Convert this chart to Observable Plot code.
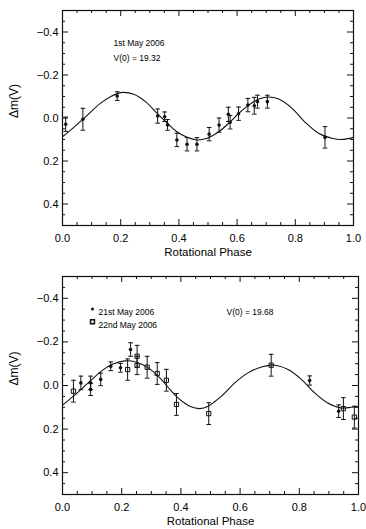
<!DOCTYPE html>
<html><head><meta charset="utf-8">
<script src="https://cdn.jsdelivr.net/npm/d3@7"></script>
<script src="https://cdn.jsdelivr.net/npm/@observablehq/plot@0.6"></script>
<style>
html,body{margin:0;padding:0;background:#fff;}
#chart{width:366px;height:529px;overflow:hidden;}
#chart svg{display:block;}
</style></head><body><div id="chart"></div>
<script>
// ---- tick values ----
const xMajor = [0.0, 0.2, 0.4, 0.6, 0.8, 1.0];
const xMinor = [0.05, 0.1, 0.15, 0.25, 0.3, 0.35, 0.45, 0.5, 0.55, 0.65, 0.7, 0.75, 0.85, 0.9, 0.95];
const yMajor = [-0.4, -0.2, 0.0, 0.2, 0.4];
const yMinor = [-0.45, -0.35, -0.3, -0.25, -0.15, -0.1, -0.05, 0.05, 0.1, 0.15, 0.25, 0.3, 0.35, 0.45];

// ---- panel 1: 1st May 2006 ----
const phase1 = [0.011, 0.070, 0.188, 0.327, 0.351, 0.361, 0.393, 0.428, 0.462, 0.504, 0.538, 0.570, 0.576, 0.605, 0.637, 0.659, 0.670, 0.704, 0.902];
const dm1    = [0.029, 0.006, -0.102, -0.009, -0.006, 0.032, 0.102, 0.122, 0.122, 0.075, 0.033, -0.017, 0.020, -0.020, -0.060, -0.057, -0.076, -0.076, 0.090];
const err1   = [0.033, 0.051, 0.020, 0.033, 0.022, 0.025, 0.031, 0.031, 0.031, 0.031, 0.033, 0.033, 0.031, 0.031, 0.031, 0.039, 0.030, 0.030, 0.050];
const curvePhase1 = [0.0, 0.035, 0.07, 0.13, 0.165, 0.205, 0.245, 0.285, 0.325, 0.361, 0.393, 0.428, 0.462, 0.497, 0.537, 0.577, 0.606, 0.640, 0.675, 0.709, 0.743, 0.789, 0.834, 0.880, 0.926, 0.960, 1.0];
const curveDm1    = [0.087, 0.048, 0.006, -0.068, -0.099, -0.119, -0.110, -0.076, -0.022, 0.025, 0.064, 0.090, 0.102, 0.094, 0.064, 0.017, -0.022, -0.060, -0.088, -0.098, -0.088, -0.045, 0.020, 0.071, 0.094, 0.100, 0.090];

// ---- panel 2: 21st / 22nd May 2006 ----
const phase21 = [0.062, 0.095, 0.095, 0.129, 0.163, 0.196, 0.230, 0.835, 0.933];
const dm21    = [-0.012, -0.012, 0.018, -0.028, -0.088, -0.081, -0.165, -0.023, 0.118];
const err21   = [0.031, 0.031, 0.028, 0.029, 0.020, 0.020, 0.031, 0.021, 0.029];
const phase22 = [0.037, 0.220, 0.252, 0.252, 0.286, 0.320, 0.351, 0.385, 0.494, 0.705, 0.949, 0.986];
const dm22    = [0.026, -0.073, -0.134, -0.092, -0.084, -0.055, -0.024, 0.087, 0.129, -0.093, 0.106, 0.145];
const err22   = [0.050, 0.049, 0.050, 0.042, 0.050, 0.050, 0.050, 0.050, 0.050, 0.050, 0.050, 0.050];
const curvePhase2 = [0.0, 0.037, 0.093, 0.138, 0.171, 0.211, 0.250, 0.290, 0.329, 0.363, 0.396, 0.430, 0.464, 0.492, 0.537, 0.582, 0.627, 0.672, 0.717, 0.762, 0.807, 0.852, 0.896, 0.942, 0.975, 1.0];
const curveDm2    = [0.090, 0.049, -0.020, -0.073, -0.099, -0.113, -0.107, -0.081, -0.035, 0.018, 0.064, 0.095, 0.106, 0.095, 0.049, -0.012, -0.058, -0.085, -0.093, -0.073, -0.028, 0.034, 0.080, 0.103, 0.100, 0.095];

const xLabel = "Rotational Phase";
const yLabel = "Δm(V)";
const note1 = ["1st May 2006", "V(0) = 19.32"];
const legend2 = ["21st May 2006", "22nd May 2006"];
const note2 = "V(0) = 19.68";

const rows = (p, v, e) => p.map((d, i) => ({p: d, v: v[i], e: e ? e[i] : 0}));
const capSymbol = {draw(ctx) { ctx.moveTo(-2.3, 0); ctx.lineTo(2.3, 0); }};
const FONT = "Liberation Sans, Arial, sans-serif";

function errMarks(data) {
  return [
    Plot.ruleX(data, {x: "p", y1: d => d.v - d.e, y2: d => d.v + d.e, stroke: "#111", strokeWidth: 1}),
    Plot.dot(data, {x: "p", y: d => d.v - d.e, symbol: capSymbol, stroke: "#111", strokeWidth: 1, r: 2}),
    Plot.dot(data, {x: "p", y: d => d.v + d.e, symbol: capSymbol, stroke: "#111", strokeWidth: 1, r: 2})
  ];
}

function panel({height, mt, mb, ml, mr, width, marks}) {
  const ih = height - mt - mb, iw = width - ml - mr;
  const maj = 6, mnr = 3;
  return Plot.plot({
    width, height, marginTop: mt, marginBottom: mb, marginLeft: ml, marginRight: mr,
    style: {fontFamily: FONT, background: "white", color: "black", overflow: "visible"},
    x: {domain: [0, 1]},
    y: {domain: [0.5, -0.5]},
    marks: [
      Plot.frame({stroke: "#111", strokeWidth: 1.2}),
      Plot.tickX(xMajor, {x: d => d, insetTop: ih - maj, stroke: "#111"}),
      Plot.tickX(xMajor, {x: d => d, insetBottom: ih - maj, stroke: "#111"}),
      Plot.tickX(xMinor, {x: d => d, insetTop: ih - mnr, stroke: "#111"}),
      Plot.tickX(xMinor, {x: d => d, insetBottom: ih - mnr, stroke: "#111"}),
      Plot.tickY(yMajor, {y: d => d, insetRight: iw - maj, stroke: "#111"}),
      Plot.tickY(yMajor, {y: d => d, insetLeft: iw - maj, stroke: "#111"}),
      Plot.tickY(yMinor, {y: d => d, insetRight: iw - mnr, stroke: "#111"}),
      Plot.tickY(yMinor, {y: d => d, insetLeft: iw - mnr, stroke: "#111"}),
      Plot.axisX({ticks: xMajor, tickSize: 0, tickPadding: 9, tickFormat: d3.format(".1f"), fontSize: 11, label: null, letterSpacing: 0.6}),
      Plot.axisY({ticks: yMajor, tickSize: 0, tickPadding: 4, tickFormat: d3.format(".1f"), fontSize: 11, label: null, letterSpacing: 0.6}),
      Plot.text([xLabel], {frameAnchor: "bottom", dy: 30, fontSize: 11.5, letterSpacing: 0.2}),
      Plot.text([yLabel], {frameAnchor: "left", dx: -48, rotate: -90, fontSize: 12}),
      ...marks
    ]
  });
}

const data1 = rows(phase1, dm1, err1);
const curve1 = rows(curvePhase1, curveDm1);
const topPlot = panel({
  width: 366, height: 262, mt: 10, mb: 37, ml: 62, mr: 13,
  marks: [
    Plot.line(curve1, {x: "p", y: "v", curve: "catmull-rom", stroke: "#111", strokeWidth: 1.1}),
    ...errMarks(data1),
    Plot.dot(data1, {x: "p", y: "v", r: 1.8, fill: "#111"}),
    Plot.text([note1[0]], {frameAnchor: "top-left", dx: 51, dy: 29.5, textAnchor: "start", fontSize: 8.5}),
    Plot.text([note1[1]], {frameAnchor: "top-left", dx: 51, dy: 44.5, textAnchor: "start", fontSize: 8.5, letterSpacing: 0.2})
  ]
});

const d21 = rows(phase21, dm21, err21);
const d22 = rows(phase22, dm22, err22);
const curve2 = rows(curvePhase2, curveDm2);
const bottomPlot = panel({
  width: 366, height: 267, mt: 14, mb: 35, ml: 62, mr: 8,
  marks: [
    Plot.line(curve2, {x: "p", y: "v", curve: "catmull-rom", stroke: "#111", strokeWidth: 1.1}),
    ...errMarks(d21),
    ...errMarks(d22),
    Plot.dot(d21, {x: "p", y: "v", r: 1.8, fill: "#111"}),
    Plot.dot(d22, {x: "p", y: "v", r: 2.4, symbol: "square", stroke: "#111", strokeWidth: 1, fill: "none"}),
    Plot.dot([0], {frameAnchor: "top-left", dx: 30, dy: 32.5, r: 1.5, fill: "#111"}),
    Plot.dot([0], {frameAnchor: "top-left", dx: 30, dy: 45.3, r: 2.2, symbol: "square", stroke: "#111", fill: "none"}),
    Plot.text([legend2[0]], {frameAnchor: "top-left", dx: 36, dy: 32.5, textAnchor: "start", fontSize: 8.5}),
    Plot.text([legend2[1]], {frameAnchor: "top-left", dx: 36, dy: 45.3, textAnchor: "start", fontSize: 8.5}),
    Plot.text([note2], {frameAnchor: "top-left", dx: 164, dy: 32.5, textAnchor: "start", fontSize: 8.5, letterSpacing: 0.2})
  ]
});

const el = document.getElementById("chart");
el.appendChild(topPlot);
el.appendChild(bottomPlot);
</script>
</body></html>
